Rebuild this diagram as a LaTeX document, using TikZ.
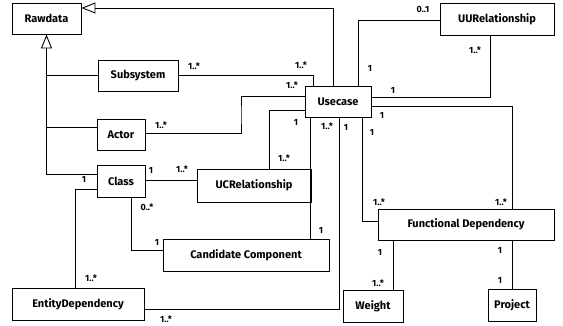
\documentclass[tikz,border=0pt]{standalone}
\usepackage{fontspec}
\setmainfont{Fira Sans}
\usetikzlibrary{arrows.meta}
\tikzset{
  cls/.style={draw, line width=0.9pt, inner sep=0pt, font=\bfseries\fontsize{11}{13}\selectfont},
  conn/.style={draw, line width=0.8pt},
  gentri/.style={conn, -{Triangle[open, length=14pt, width=11pt, line width=0.9pt]}},
  lbl/.style={font=\bfseries\fontsize{9}{10}\selectfont, inner sep=0pt}
}
\begin{document}
\begin{tikzpicture}[x=1pt, y=-1pt]
\useasboundingbox (0,0) rectangle (563,325);
% classes
\node[cls, minimum width=69pt, minimum height=31pt] (Rawdata) at (46.5,18.5) {Rawdata};
\node[cls, minimum width=80pt, minimum height=31pt] (Subsystem) at (138,75.5) {Subsystem};
\node[cls, minimum width=48pt, minimum height=31pt] (Actor) at (121,134.5) {Actor};
\node[cls, minimum width=48pt, minimum height=32pt] (Class) at (121,181) {Class};
\node[cls, minimum width=114pt, minimum height=33pt] (UCRel) at (254,185.5) {UCRelationship};
\node[cls, minimum width=166pt, minimum height=32pt] (CandComp) at (246,255) {Candidate Component};
\node[cls, minimum width=132pt, minimum height=32pt] (EntityDep) at (78,304) {EntityDependency};
\node[cls, minimum width=66pt, minimum height=31pt] (Usecase) at (338,101.5) {Usecase};
\node[cls, minimum width=114pt, minimum height=32pt] (UURel) at (497,19) {UURelationship};
\node[cls, minimum width=176pt, minimum height=31pt] (FD) at (466,224.5) {Functional Dependency};
\node[cls, minimum width=60pt, minimum height=32pt] (Weight) at (373,306) {Weight};
\node[cls, minimum width=48pt, minimum height=32pt] (Project) at (512,305) {Project};

% generalization to Rawdata
\draw[gentri] (Class.west |- 0,174) -| (Rawdata.south);
\draw[conn] (Subsystem.west) -- (Subsystem.west -| Rawdata.south);
\draw[conn] (Actor.west |- 0,127) -- (Rawdata.south |- 0,127);
\draw[gentri] (Usecase.north -| 333,0) |- (Rawdata.east |- 0,8);
\node[lbl] (l0) at (84,179) {1};

% Subsystem - Usecase
\draw[conn] (Subsystem.east) -| (Usecase.north -| 313,0);
\node[lbl] (l1) at (194,66) {1..*};
\node[lbl] (l2) at (301,65) {1..*};

% Actor - Usecase
\draw[conn] (Actor.east |- 0,133) -| (241,115) |- (Usecase.west |- 0,96);
\node[lbl] (l3) at (161,125) {1..*};
\node[lbl] (l4) at (292,85) {1..*};

% Usecase - UCRelationship
\draw[conn] (Usecase.west |- 0,110) -| (UCRel.north -| 269,0);
\node[lbl] (l5) at (296,122) {1};
\node[lbl] (l6) at (284,158) {1..*};

% Usecase - Candidate Component
\draw[conn] (Usecase.south -| 310,0) -- (CandComp.north -| 310,0);
\node[lbl] (l7) at (327,126) {1..*};
\node[lbl] (l8) at (321,230) {1};

% Usecase - EntityDependency
\draw[conn] (Usecase.south -| 339,0) |- (EntityDep.east |- 0,309);
\node[lbl] (l9) at (346,127) {1};
\node[lbl] (l10) at (166,319) {1..*};

% Usecase - Functional Dependency (left)
\draw[conn] (Usecase.south -| 362,0) |- (FD.west |- 0,221);
\node[lbl] (l11) at (372,132) {1};
\node[lbl] (l12) at (379,202) {1..*};

% Usecase - Functional Dependency (right)
\draw[conn] (Usecase.east |- 0,106) -| (FD.north -| 512,0);
\node[lbl] (l13) at (382,115) {1};
\node[lbl] (l14) at (501,202) {1..*};

% Usecase - UURelationship (bottom)
\draw[conn] (Usecase.east |- 0,97) -| (UURel.south -| 490,0);
\node[lbl] (l15) at (393,90) {1};
\node[lbl] (l16) at (475,50) {1..*};

% Usecase - UURelationship (left)
\draw[conn] (Usecase.north -| 358,0) |- (UURel.west |- 0,20);
\node[lbl] (l17) at (370,68) {1};
\node[lbl] (l18) at (423,9) {0..1};

% Class - UCRelationship
\draw[conn] (Class.east |- 0,180) -- (UCRel.west |- 0,180);
\node[lbl] (l19) at (151,170) {1};
\node[lbl] (l20) at (182,169) {1..*};

% Class - Candidate Component
\draw[conn] (Class.south -| 131,0) |- (CandComp.west |- 0,250);
\node[lbl] (l21) at (147,207) {0..*};
\node[lbl] (l22) at (157,242) {1};

% Class - EntityDependency
\draw[conn] (Class.west |- 0,189) -| (EntityDep.north -| 75,0);
\node[lbl] (l23) at (91,278) {1..*};

% FD - Weight
\draw[conn] (FD.south -| 393,0) -- (Weight.north -| 393,0);
\node[lbl] (l24) at (380,252) {1};
\node[lbl] (l25) at (378,283) {1..*};

% FD - Project
\draw[conn] (FD.south -| 512,0) -- (Project.north -| 512,0);
\node[lbl] (l26) at (500,250) {1};
\node[lbl] (l27) at (500,280) {1};
\end{tikzpicture}
\end{document}
